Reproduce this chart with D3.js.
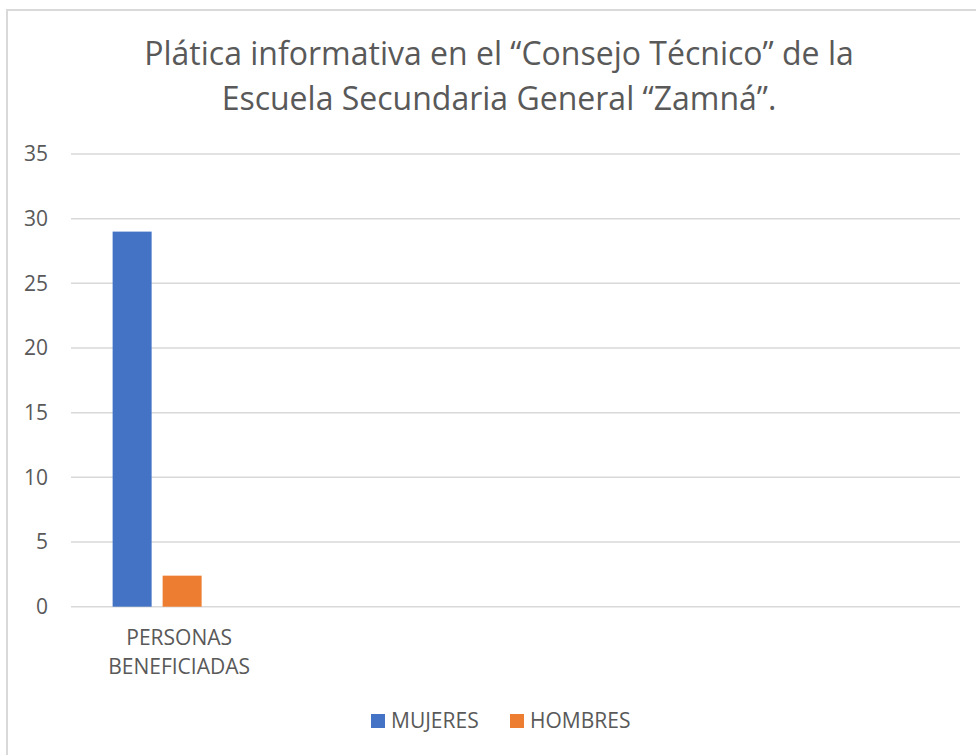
<!DOCTYPE html>
<html>
<head>
<meta charset="utf-8">
<script src="https://cdn.jsdelivr.net/npm/d3@7"></script>
<style>
  body { margin: 0; background: #fff; }
  text { font-family: "Open Sans", sans-serif; fill: #595959; }
</style>
</head>
<body>
<div id="chart"></div>
<script>
// data
var categories = ["PERSONAS BENEFICIADAS", "", "", ""];
var seriesNames = ["MUJERES", "HOMBRES", "Serie3"];
var mujeres = [29, null, null, null];
var hombres = [2.4, null, null, null];
var serie3 = [null, null, null, null];
var yTicks = [0, 5, 10, 15, 20, 25, 30, 35];
var titleLines = ["Plática informativa en el “Consejo Técnico” de la", "Escuela Secundaria General “Zamná”."];

var colors = ["#4472C4", "#ED7D31", "#A5A5A5"];
var legendCount = 2;

var svgWidth = 976, svgHeight = 755;
var margin = { top: 154, left: 71, right: 16, bottom: 148 };
var chartWidth = svgWidth - margin.left - margin.right;
var chartHeight = 606.7 - margin.top;

var svg = d3.select("#chart").append("svg")
    .attr("width", svgWidth)
    .attr("height", svgHeight);

// chart frame
svg.append("rect")
    .attr("x", 7).attr("y", 10)
    .attr("width", 1000).attr("height", 800)
    .attr("fill", "#fff")
    .attr("stroke", "#d9d9d9")
    .attr("stroke-width", 2);

// title
svg.append("text")
    .attr("text-anchor", "middle")
    .attr("font-size", 32)
    .selectAll("tspan")
    .data(titleLines)
    .enter()
    .append("tspan")
    .attr("x", 499)
    .attr("y", (d, i) => 65 + i * 45)
    .text(d => d);

var g = svg.append("g")
    .attr("transform", `translate(${margin.left}, ${margin.top})`);

var yScale = d3.scaleLinear().domain([0, 35]).range([chartHeight, 0]);
var x0 = d3.scaleBand().domain(d3.range(categories.length)).range([0, chartWidth]);
var x1 = d3.scaleBand().domain(d3.range(seriesNames.length))
    .range([0, x0.bandwidth()])
    .paddingInner(0.22)
    .paddingOuter(0.8325);

// gridlines
g.append("g")
    .selectAll("line")
    .data(yTicks)
    .enter()
    .append("line")
    .attr("x1", 0).attr("x2", chartWidth)
    .attr("y1", d => yScale(d)).attr("y2", d => yScale(d))
    .attr("stroke", "#d9d9d9")
    .attr("stroke-width", 1.5);

// y axis labels
var yAxis = d3.axisLeft(yScale).tickValues(yTicks).tickSize(0).tickPadding(23);
var yg = g.append("g").call(yAxis);
yg.select(".domain").remove();
yg.selectAll("text").attr("font-size", 21).attr("font-family", "Open Sans").attr("fill", "#595959");

// bars
var allSeries = [mujeres, hombres, serie3];
var table = [];
categories.forEach(function(c, ci) {
    allSeries.forEach(function(s, si) {
        if (s[ci] != null) table.push({ cat: ci, series: si, value: s[ci] });
    });
});

g.selectAll("rect.bar")
    .data(table)
    .enter()
    .append("rect")
    .attr("class", "bar")
    .attr("x", d => x0(d.cat) + x1(d.series))
    .attr("width", x1.bandwidth())
    .attr("y", d => yScale(d.value))
    .attr("height", d => chartHeight - yScale(d.value))
    .attr("fill", d => colors[d.series]);

// category labels
g.selectAll("text.cat")
    .data(categories)
    .enter()
    .append("text")
    .attr("class", "cat")
    .attr("text-anchor", "middle")
    .attr("font-size", 21)
    .selectAll("tspan")
    .data((d, i) => d.split(" ").filter(w => w).map(w => ({ w: w, i: i })))
    .enter()
    .append("tspan")
    .attr("x", d => x0(d.i) + x0.bandwidth() / 2 - 3)
    .attr("y", (d, j) => chartHeight + 38.5 + j * 29)
    .text(d => d.w);

// legend
var legendItems = seriesNames.slice(0, legendCount);
var legendX = [371, 510];
var legend = svg.append("g");
legend.selectAll("rect")
    .data(legendItems)
    .enter()
    .append("rect")
    .attr("x", (d, i) => legendX[i])
    .attr("y", 714)
    .attr("width", 14).attr("height", 14)
    .attr("fill", (d, i) => colors[i]);
legend.selectAll("text")
    .data(legendItems)
    .enter()
    .append("text")
    .attr("x", (d, i) => legendX[i] + 20)
    .attr("y", 728)
    .attr("font-size", 21)
    .text(d => d);
</script>
</body>
</html>
